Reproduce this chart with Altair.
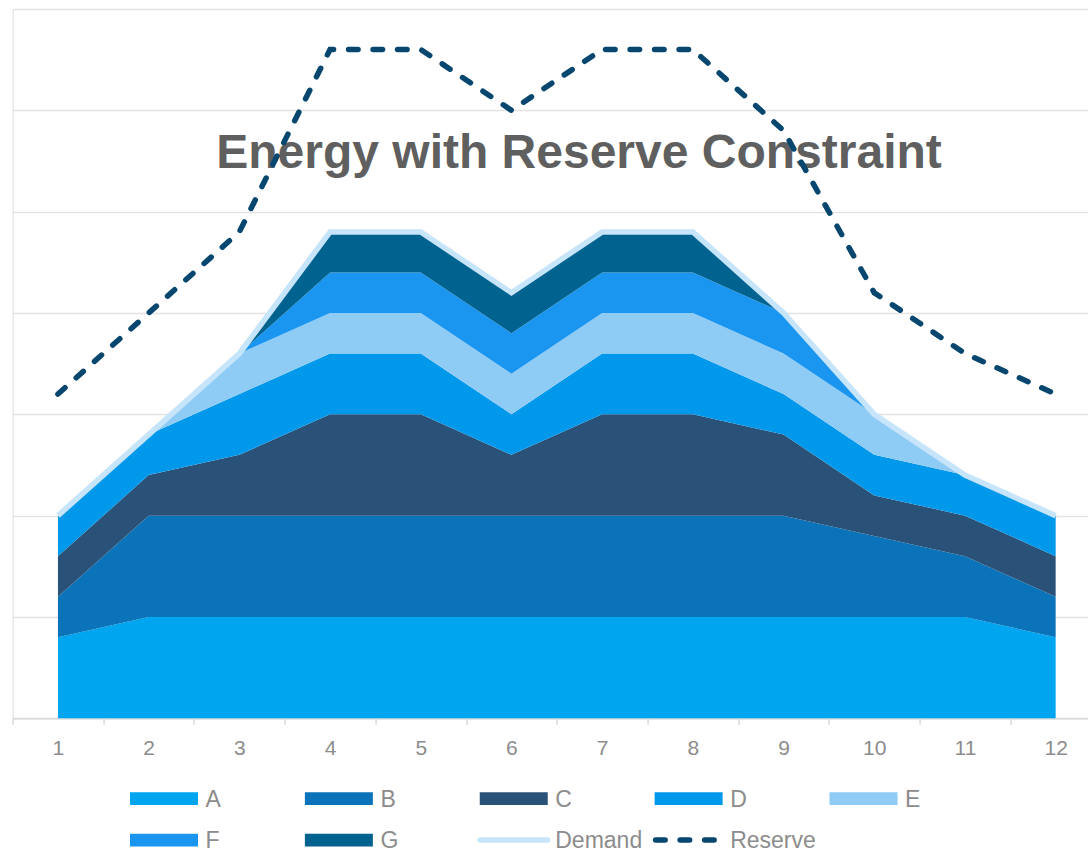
import altair as alt
import pandas as pd

# ---------------- data ----------------
hours = [1, 2, 3, 4, 5, 6, 7, 8, 9, 10, 11, 12]
series_names = ["A", "B", "C", "D", "E", "F", "G"]
A = [16, 20, 20, 20, 20, 20, 20, 20, 20, 20, 20, 16]
B = [8, 20, 20, 20, 20, 20, 20, 20, 20, 16, 12, 8]
C = [8, 8, 12, 20, 20, 12, 20, 20, 16, 8, 8, 8]
D = [8, 8, 12, 12, 12, 8, 12, 12, 8, 8, 8, 8]
E = [0, 0, 8, 8, 8, 8, 8, 8, 8, 8, 0, 0]
F = [0, 0, 0, 8, 8, 8, 8, 8, 8, 0, 0, 0]
G = [0, 0, 0, 8, 8, 8, 8, 8, 0, 0, 0, 0]
demand = [40, 56, 72, 96, 96, 84, 96, 96, 80, 60, 48, 40]
reserve = [64, 80, 96, 132, 132, 120, 132, 132, 116, 84, 72, 64]
title_text = "Energy with Reserve Constraint"
legend_names = ["A", "B", "C", "D", "E", "F", "G", "Demand", "Reserve"]

series_colors = ["#00a5ef", "#0a73b9", "#2a5278", "#0098ea", "#8ecbf5", "#1b96f0", "#00628f"]
demand_color = "#c6e4fa"
reserve_color = "#07476f"
text_gray = "#8c8c8c"

# ---------------- tables ----------------
values = [A, B, C, D, E, F, G]
rows = []
for idx, (name, vals) in enumerate(zip(series_names, values)):
    for h, v in zip(hours, vals):
        rows.append({"x": h, "series": name, "value": v, "idx": idx})
df_stack = pd.DataFrame(rows)
df_lines = pd.DataFrame({"x": hours, "demand": demand, "reserve": reserve})
df_leg = pd.DataFrame({
    "name": legend_names,
    "col": [i % 5 for i in range(len(legend_names))],
    "row": [i // 5 for i in range(len(legend_names))],
})

# ---------------- layout ----------------
W = 1075.4
H = 709.3
unit = 90.7
xscale = alt.Scale(domain=[0.5, 0.5 + W / unit], nice=False, zero=False)
yscale = alt.Scale(domain=[0, 140], nice=False)
cscale = alt.Scale(domain=series_names, range=series_colors)

x_axis = alt.Axis(values=hours, tickOffset=-unit / 2, labelOffset=unit / 2,
                  grid=False, domainColor="#d9d9d9", domainWidth=1.5,
                  tickColor="#d9d9d9", tickWidth=1.5, tickSize=6, title=None,
                  labelPadding=13, labelFontSize=21, labelFont="Liberation Sans",
                  labelColor=text_gray, labelFlush=False)
y_axis = alt.Axis(values=list(range(0, 141, 20)), labels=False, ticks=False, title=None,
                  domain=False, grid=True, gridColor="#e3e3e3", gridWidth=1.5)

area = alt.Chart(df_stack).mark_area(opacity=1).encode(
    x=alt.X("x:Q", scale=xscale, title=None, axis=x_axis),
    y=alt.Y("value:Q", stack="zero", scale=yscale, title=None, axis=y_axis),
    color=alt.Color("series:N", scale=cscale, legend=None),
    order=alt.Order("idx:Q", sort="ascending"),
)

title = alt.Chart(pd.DataFrame({"t": [title_text]})).mark_text(
    font="Liberation Sans", fontSize=48, fontWeight="bold", color="#5f5f5f",
    align="center", baseline="alphabetic",
).encode(text="t:N", x=alt.value(566.4), y=alt.value(159))

demand_line = alt.Chart(df_lines).mark_line(
    color=demand_color, strokeWidth=5.5
).encode(
    x=alt.X("x:Q", scale=xscale, title=None, axis=x_axis),
    y=alt.Y("demand:Q", scale=yscale, title=None, axis=y_axis),
)

reserve_line = alt.Chart(df_lines).mark_line(
    color=reserve_color, strokeWidth=5.5, strokeDash=[9.5, 15], strokeCap="round"
).encode(
    x=alt.X("x:Q", scale=xscale, title=None, axis=x_axis),
    y=alt.Y("reserve:Q", scale=yscale, title=None, axis=y_axis),
)

main = alt.layer(area, title, demand_line, reserve_line)

# ---------------- legend ----------------
lx = alt.Scale(domain=[0, 4], range=[151.4, 850.9], nice=False, zero=False)
ly = alt.Scale(domain=[0, 1], range=[789.7, 831], nice=False, zero=False)
leg_base = alt.Chart(df_leg)
enc = dict(x=alt.X("col:Q", scale=lx, axis=None), y=alt.Y("row:Q", scale=ly, axis=None))

sw = leg_base.transform_filter(
    alt.FieldOneOfPredicate(field="name", oneOf=series_names)
).mark_point(shape="M-1,-0.1875H1V0.1875H-1Z", filled=True, size=4624, opacity=1).encode(
    color=alt.Color("name:N", scale=cscale, legend=None), **enc)

sw_dem = leg_base.transform_filter(alt.datum.name == "Demand").mark_point(
    shape="M-1,0H1", filled=False, size=4556, strokeWidth=5.5, strokeCap="round",
    color=demand_color, opacity=1).encode(**enc)

sw_res = leg_base.transform_filter(alt.datum.name == "Reserve").mark_point(
    shape="M-1,0H1", filled=False, size=3721, strokeWidth=5.5, strokeCap="round",
    strokeDash=[9.5, 15], color=reserve_color, opacity=1, xOffset=-2.5).encode(**enc)

labels = leg_base.mark_text(
    align="left", baseline="middle", dx=41.5, dy=1, font="Liberation Sans",
    fontSize=23, color=text_gray).encode(text="name:N", **enc)

legend = alt.layer(sw, sw_dem, sw_res, labels)

chart = alt.layer(main, legend).resolve_scale(x="independent", y="independent").properties(
    width=W, height=H,
    padding={"left": 12.6, "top": 9, "right": 0, "bottom": 133.7},
    autosize=alt.AutoSizeParams(type="none"),
).configure_view(strokeWidth=0, strokeOpacity=0).configure(background="white")

chart.save("out.html", embed_options={"renderer": "svg", "actions": False})
